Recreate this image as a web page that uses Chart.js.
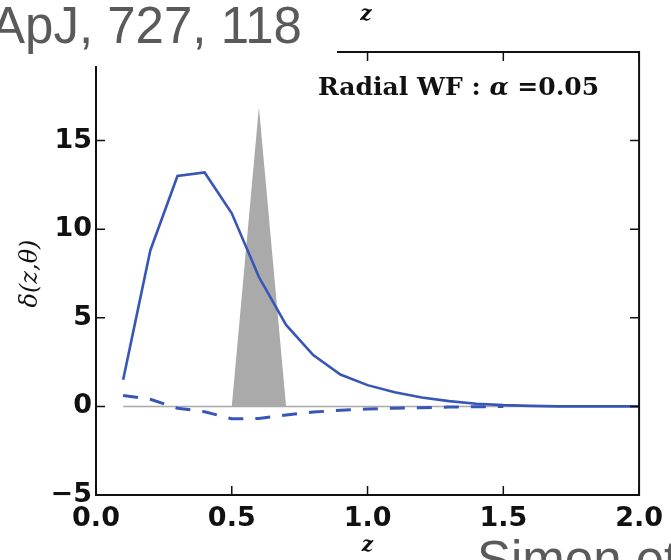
<!DOCTYPE html>
<html>
<head>
<meta charset="utf-8">
<script src="https://cdn.jsdelivr.net/npm/chart.js@4.4.1/dist/chart.umd.min.js"></script>
<style>
  html, body { margin: 0; padding: 0; background: #fff; }
  #wrap { width: 671px; height: 560px; }
</style>
</head>
<body>
<div id="wrap"><canvas id="wfChart" width="671" height="560"></canvas></div>
<script>
// radial weight function, solid curve
const zSolid = [0.1, 0.2, 0.3, 0.4, 0.5, 0.6, 0.7, 0.8, 0.9, 1.0, 1.1, 1.2, 1.3, 1.4, 1.5, 1.6, 1.7, 1.8, 1.9, 2.0];
const deltaSolid = [1.5, 8.8, 13.0, 13.2, 10.9, 7.3, 4.6, 2.9, 1.8, 1.2, 0.8, 0.5, 0.3, 0.15, 0.07, 0.03, 0, 0, 0, 0];

// dashed curve
const zDashed = [0.1, 0.2, 0.3, 0.4, 0.5, 0.6, 0.7, 0.8, 0.9, 1.0, 1.1, 1.2, 1.3, 1.4, 1.5];
const deltaDashed = [0.62, 0.4, -0.1, -0.3, -0.7, -0.68, -0.48, -0.32, -0.22, -0.15, -0.1, -0.07, -0.04, -0.02, 0];

// grey redshift bin
const zBin = [0.5, 0.6, 0.7];
const binHeight = [0, 16.9, 0];

// zero reference line
const zZero = [0.1, 2.0];
const zeroLevel = [0, 0];

const xTicks = [0, 0.5, 1.0, 1.5, 2.0];
const yTicks = [-5, 0, 5, 10, 15, 20];

const blue = '#3856b6';

function pairs(xs, ys) {
    return xs.map((v, i) => ({ x: v, y: ys[i] }));
}

// box, inward ticks and the page text around the panel
const framePlugin = {
    id: 'frame',
    afterDraw(chart) {
        const { ctx, chartArea: a, scales: { x, y } } = chart;
        ctx.save();
        ctx.strokeStyle = '#111';
        ctx.lineWidth = 2;
        ctx.strokeRect(a.left, a.top, a.right - a.left, a.bottom - a.top);

        const tl = 9;
        ctx.lineWidth = 1.5;
        ctx.beginPath();
        x.ticks.forEach(t => {
            const px = x.getPixelForValue(t.value);
            ctx.moveTo(px, a.bottom); ctx.lineTo(px, a.bottom - tl);
            ctx.moveTo(px, a.top); ctx.lineTo(px, a.top + tl);
        });
        y.ticks.forEach(t => {
            const py = y.getPixelForValue(t.value);
            ctx.moveTo(a.left, py); ctx.lineTo(a.left + tl, py);
            ctx.moveTo(a.right, py); ctx.lineTo(a.right - tl, py);
        });
        ctx.stroke();

        // white patch with the journal reference on it
        ctx.fillStyle = '#fff';
        ctx.fillRect(0, 0, 337, 66);
        ctx.fillStyle = '#5a5a5a';
        ctx.font = "51px 'Liberation Sans'";
        ctx.textBaseline = 'alphabetic';
        ctx.textAlign = 'left';
        ctx.fillText('ApJ, 727, 118', -9, 43);
        ctx.fillText('Simon et al.', 477, 577);

        // axis label of the panel above
        ctx.fillStyle = '#111';
        ctx.font = "italic bold 20px 'DejaVu Serif'";
        ctx.textAlign = 'center';
        ctx.fillText('z', 366, 20);

        // annotation
        ctx.textAlign = 'left';
        let tx = 318;
        const by = 95;
        ctx.font = "bold 25px 'DejaVu Serif'";
        ctx.fillText('Radial WF : ', tx, by);
        tx += ctx.measureText('Radial WF : ').width;
        ctx.font = "italic bold 25px 'DejaVu Serif'";
        ctx.fillText('α', tx, by);
        tx += ctx.measureText('α ').width;
        ctx.font = "bold 25px 'DejaVu Serif'";
        ctx.fillText('=0.05', tx, by);
        ctx.restore();
    }
};

new Chart(document.getElementById('wfChart').getContext('2d'), {
    type: 'line',
    data: {
        datasets: [
            {
                data: pairs(zSolid, deltaSolid),
                borderColor: blue,
                borderWidth: 2.6,
                pointRadius: 0,
                tension: 0,
                fill: false,
                order: 0
            },
            {
                data: pairs(zDashed, deltaDashed),
                borderColor: blue,
                borderWidth: 3,
                borderDash: [15, 12],
                pointRadius: 0,
                tension: 0,
                fill: false,
                order: 1
            },
            {
                data: pairs(zZero, zeroLevel),
                borderColor: '#a8a8a8',
                borderWidth: 1.5,
                pointRadius: 0,
                fill: false,
                order: 2
            },
            {
                data: pairs(zBin, binHeight),
                borderColor: 'rgba(0,0,0,0)',
                borderWidth: 0,
                backgroundColor: '#aaaaaa',
                pointRadius: 0,
                tension: 0,
                fill: 'origin',
                order: 3
            }
        ]
    },
    options: {
        responsive: false,
        animation: false,
        layout: { padding: { top: 52, right: 29, left: 0, bottom: 0 } },
        plugins: {
            legend: { display: false },
            tooltip: { enabled: false }
        },
        scales: {
            x: {
                type: 'linear',
                min: 0,
                max: 2,
                afterBuildTicks: s => { s.ticks = xTicks.map(v => ({ value: v })); },
                afterFit: s => { s.height = 65; },
                grid: { display: false, drawTicks: false },
                border: { display: false },
                ticks: {
                    padding: 8,
                    color: '#111',
                    font: { family: 'DejaVu Sans', size: 27, weight: 'bold' },
                    callback: v => v.toFixed(1)
                },
                title: {
                    display: true,
                    text: 'z',
                    color: '#111',
                    padding: { top: 0, bottom: 2 },
                    font: { family: 'DejaVu Serif', size: 20, style: 'italic', weight: 'bold' }
                }
            },
            y: {
                min: -5,
                max: 20,
                afterBuildTicks: s => { s.ticks = yTicks.map(v => ({ value: v })); },
                afterFit: s => { s.width = 96; },
                grid: { display: false, drawTicks: false },
                border: { display: false },
                ticks: {
                    padding: 4,
                    color: '#111',
                    font: { family: 'DejaVu Sans', size: 27, weight: 'bold' },
                    callback: v => (v < 0 ? '\u2212' + Math.abs(v) : String(v))
                },
                title: {
                    display: true,
                    text: 'δ(z,θ)',
                    color: '#111',
                    padding: { top: 16, bottom: 0 },
                    font: { family: 'DejaVu Serif', size: 24, style: 'italic' }
                }
            }
        }
    },
    plugins: [framePlugin]
});
</script>
</body>
</html>
